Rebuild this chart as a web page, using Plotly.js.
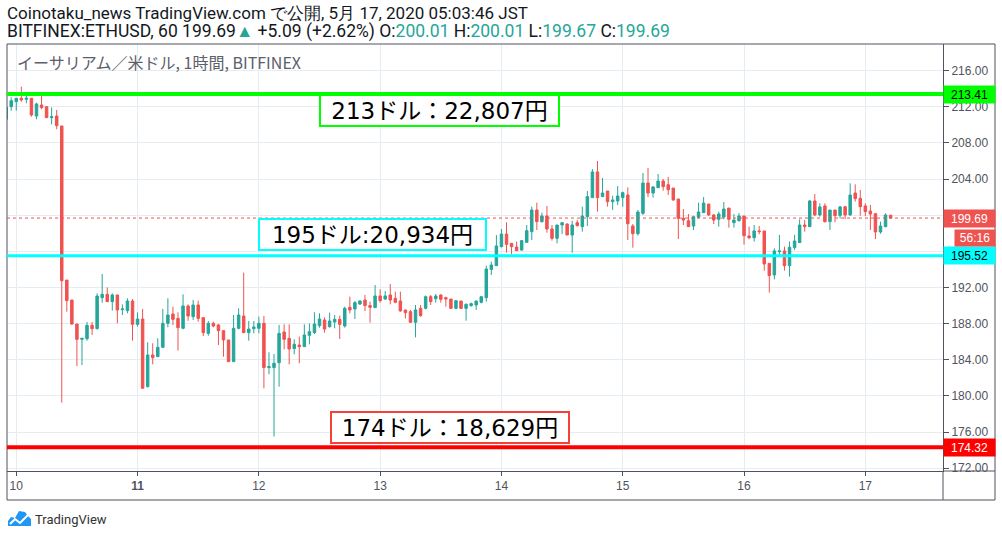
<!DOCTYPE html>
<html>
<head>
<meta charset="utf-8">
<script src="https://cdn.plot.ly/plotly-3.0.1.min.js"></script>
<style>
html,body{margin:0;padding:0;background:#fff;}
#chart{width:1002px;height:537px;}
</style>
</head>
<body>
<div id="chart"></div>
<script>
// ---- DATA (hourly candles, ETH/USD Bitfinex, JST) ----
var startTime = '2020-05-09 22:00';
var openV = [210.61,212.02,212.57,212.94,212.83,212.94,210.98,212.2,212.02,210.8,210.98,209.88,192.83,190.62,187.97,186.27,186.34,187.82,187.45,190.88,
191.25,190.44,191.18,189.55,189.44,190.51,187.93,188.52,181.03,184.54,184.35,185.38,188.04,189.07,188.59,187.49,189.96,188.78,190.07,188.67,
186.93,188.04,187.86,187.23,186.2,183.8,187.49,188.85,187.01,187.45,187.49,188.04,183.14,183.14,183.69,187.08,186.38,185.24,185.64,185.46,
186.71,187.01,187.78,188.41,187.67,188.19,188.48,187.75,189.81,189.63,190.18,190.62,190.0,189.78,191.07,190.73,191.18,190.81,190.51,189.52,
189.33,188.15,189.7,189.7,190.99,190.77,191.17,190.88,190.73,189.7,190.51,189.7,190.0,190.07,190.36,190.88,194.01,194.42,196.52,197.92,
196.89,196.49,196.15,197.0,198.18,200.58,199.29,199.92,198.48,197.45,198.92,199.03,197.81,199.18,198.74,199.84,201.95,204.79,202.06,202.68,
201.5,201.58,201.95,202.24,198.81,197.96,200.21,203.57,202.46,203.05,203.79,203.38,203.01,201.8,199.66,199.4,198.81,199.77,200.29,201.24,
200.03,199.55,199.81,200.8,199.18,199.4,199.92,197.71,197.52,198.26,198.26,194.68,193.39,195.97,196.05,194.42,196.42,196.97,198.92,198.74,
201.58,200.03,201.03,199.29,200.58,199.99,200.95,200.03,202.46,201.87,201.03,200.47,200.18,198.15,198.74,200.01];
var highV = [212.0,213.05,212.97,214.23,213.49,212.97,212.46,213.49,212.09,211.94,211.65,209.88,192.83,190.62,187.97,186.38,188.19,188.19,191.36,193.5,
192.02,191.36,191.18,190.14,190.81,190.73,189.26,189.63,185.94,185.83,186.38,189.63,190.81,189.88,189.26,191.25,190.14,190.62,190.55,188.67,
188.3,188.22,187.97,187.23,186.2,188.96,189.7,193.65,188.3,188.3,188.78,188.85,184.83,184.65,187.86,187.93,187.93,186.27,186.57,187.93,
188.04,189.26,189.15,188.7,189.22,188.96,188.89,189.89,190.99,190.51,190.62,191.18,190.44,192.28,191.8,191.62,192.39,191.55,191.55,189.52,
189.52,190.07,190.07,191.1,191.17,191.29,191.29,190.99,190.73,190.55,190.51,190.25,190.33,190.55,190.99,194.42,194.86,197.81,198.48,199.22,
196.89,197.08,197.26,198.92,200.95,201.39,200.29,201.02,198.92,198.92,199.18,199.1,199.4,199.47,200.95,202.68,205.12,206.0,204.12,202.68,
202.17,203.24,202.61,203.09,199.03,200.58,204.67,205.23,203.24,204.56,204.01,204.23,203.01,201.8,200.69,200.14,199.95,201.39,202.02,201.24,
200.14,200.4,201.47,200.8,200.14,200.25,199.92,198.74,198.92,198.81,198.26,194.68,196.34,197.82,196.53,197.08,197.82,199.55,199.48,201.69,
202.35,201.32,201.32,200.58,200.58,201.06,200.95,203.53,203.42,202.8,201.32,201.14,200.18,199.29,200.21,200.01];
var lowV = [210.5,211.57,211.57,212.57,212.39,210.91,210.61,211.72,210.8,210.06,209.51,179.26,189.33,187.86,183.32,183.43,186.12,186.75,187.38,190.33,
190.44,189.44,188.04,188.96,189.15,186.12,187.67,180.85,180.96,183.5,184.35,185.38,187.6,187.86,185.02,187.38,188.33,188.41,188.22,186.64,
186.67,187.6,185.64,184.35,183.8,183.8,187.38,187.01,186.12,186.94,186.94,180.85,182.4,175.5,181.03,185.16,183.5,184.61,183.62,185.46,
185.72,186.86,187.56,187.01,187.56,187.49,186.31,187.56,189.15,188.52,190.07,189.41,188.11,189.78,190.33,190.62,190.14,190.26,189.33,188.59,
188.15,186.49,188.78,189.59,190.07,190.33,190.33,189.88,189.7,189.59,189.63,188.33,189.88,189.52,190.25,190.44,193.39,194.38,196.45,195.86,
195.67,196.08,196.08,197.0,197.26,198.37,199.18,198.07,197.19,196.89,197.92,197.81,195.86,198.74,198.18,198.81,201.95,200.4,202.06,200.95,
200.58,201.13,200.95,197.26,196.41,197.74,200.03,202.02,201.95,203.05,202.72,202.24,201.61,197.37,198.92,198.74,198.37,199.66,200.29,199.92,
199.03,198.74,199.55,198.63,198.63,199.29,196.74,197.34,197.08,197.89,193.87,191.44,192.91,195.49,193.87,193.21,196.16,196.97,198.19,198.74,
199.92,199.85,199.18,198.37,199.22,199.66,199.59,199.96,201.51,199.96,199.92,198.37,197.37,197.96,198.67,199.67];
var closeV = [211.94,212.68,212.94,212.76,212.94,211.09,212.31,211.91,210.8,210.91,209.91,192.76,190.55,187.97,186.27,186.38,187.82,187.45,191.06,191.25,
190.44,191.18,189.52,189.63,190.51,187.93,188.52,180.85,184.54,184.24,185.38,188.04,188.96,188.48,187.56,189.96,188.85,190.07,188.59,187.01,
188.04,187.74,187.23,186.2,183.8,187.49,188.96,187.01,187.41,187.64,188.04,183.14,183.25,183.62,186.93,186.27,185.2,185.72,185.46,186.75,
187.12,187.97,188.52,187.41,188.3,188.48,187.93,189.7,189.52,190.33,190.51,190.0,189.81,191.07,190.55,191.07,190.62,190.37,189.41,189.22,
188.15,189.52,188.89,190.99,190.44,191.06,190.7,190.73,189.7,190.55,189.7,190.14,190.22,190.51,190.99,194.05,194.49,196.6,197.92,196.78,
196.52,196.08,197.19,198.29,200.58,199.29,199.92,198.48,197.45,198.92,199.18,197.81,198.92,198.85,199.92,202.06,204.79,201.95,202.46,201.5,
201.69,202.13,202.5,199.07,197.96,200.36,203.57,202.46,203.13,203.79,203.16,202.83,201.69,199.66,199.47,198.74,199.84,200.36,201.35,200.03,
199.47,200.14,200.69,199.55,199.47,199.92,197.74,197.52,198.26,198.19,194.61,193.32,196.05,196.05,194.42,196.45,197.15,198.92,198.74,201.58,
200.03,200.92,199.29,200.58,199.96,200.92,200.03,202.24,201.84,200.95,200.4,200.14,198.15,198.81,200.03,199.69];

var dayTicks = ['2020-05-10','2020-05-11','2020-05-12','2020-05-13','2020-05-14','2020-05-15','2020-05-16','2020-05-17'];
var dayLabels = ['10','<b>11</b>','12','13','14','15','16','17'];
var priceTicks = [172,176,180,184,188,192,196,200,204,208,212,216];
var hiddenPriceTicks = [196,200]; // covered by the price-line labels

var levelGreen = 213.41, levelCyan = 195.52, levelRed = 174.32, lastPrice = 199.69;
var levelGreenText = '213ドル：22,807円';
var levelCyanText = '195ドル:20,934円';
var levelRedText = '174ドル：18,629円';
var countdownText = '56:16';
var headerLine1 = 'Coinotaku_news TradingView.com で公開, 5月 17, 2020 05:03:46 JST';
var symbolTitle = 'イーサリアム／米ドル, 1時間, BITFINEX';

// ---- build times ----
function pad(n){return (n<10?'0':'')+n;}
var t0 = Date.UTC(2020,4,9,22,0,0);
var xs = openV.map(function(_,i){
  var d = new Date(t0 + i*3600000);
  return d.getUTCFullYear()+'-'+pad(d.getUTCMonth()+1)+'-'+pad(d.getUTCDate())+' '+pad(d.getUTCHours())+':00';
});

var UP='#26a69a', DN='#ef5350', AX='#50535e', GRID='#e6edf2';
var trace = {
  type:'candlestick', x:xs, open:openV, high:highV, low:lowV, close:closeV,
  increasing:{line:{color:UP,width:1},fillcolor:UP},
  decreasing:{line:{color:DN,width:1},fillcolor:DN},
  whiskerwidth:0, hoverinfo:'skip'
};

// pixel helpers for decoration placement (plot area 7..943 x 44..471)
var L=7,R=943,T=44,B=471;
function PX(x){return (x-L)/(R-L);}
function PY(y){return (B-y)/(B-T);}

var shapes = [];
function ln(x0,y0,x1,y1,c,w,dash){shapes.push({type:'line',xref:'paper',yref:'paper',x0:x0,y0:y0,x1:x1,y1:y1,line:{color:c,width:w,dash:dash||'solid'}});}
// frame
ln(0,PY(500),0,1,AX,1);
ln(0,1,PX(995),1,AX,1);
ln(PX(995),PY(500),PX(995),1,AX,1);
ln(0,PY(500),PX(995),PY(500),AX,1);
ln(1,0,PX(995),0,AX,1);
ln(1,PY(500),1,0,AX,1);
// level lines
function hl(v,c,w,dash){shapes.push({type:'line',xref:'paper',yref:'y',x0:0,x1:1,y0:v,y1:v,line:{color:c,width:w,dash:dash||'solid'}});}
hl(lastPrice,DN,1,'dot');
hl(levelGreen,'#00ff00',4);
hl(levelCyan,'#00ffff',3);
hl(levelRed,'#ff0000',4);
// TradingView logo
var cloud=[[8,526],[8,521],[11,517],[15,518],[19,511],[25,512],[28,516],[31,519],[31,526]];
var pth='M'+cloud.map(function(p){return PX(p[0])+','+PY(p[1]);}).join(' L')+' Z';
shapes.push({type:'path',xref:'paper',yref:'paper',path:pth,fillcolor:'#2196f3',line:{width:0}});
var zig=[[10,524],[15,519],[20,523],[28,515]];
shapes.push({type:'path',xref:'paper',yref:'paper',path:'M'+zig.map(function(p){return PX(p[0])+','+PY(p[1]);}).join(' L'),line:{color:'#ffffff',width:2}});

var annotations = [];
var HF = 'Roboto, Liberation Sans, sans-serif';
annotations.push({xref:'paper',yref:'paper',x:PX(5),y:PY(13),xanchor:'left',yanchor:'middle',showarrow:false,
  text:headerLine1,font:{family:HF,size:17,color:'#131722'}});
annotations.push({xref:'paper',yref:'paper',x:PX(5),y:PY(32),xanchor:'left',yanchor:'middle',showarrow:false,
  text:'BITFINEX:ETHUSD, 60 199.69<span style="color:'+UP+'">▲</span> +5.09 (+2.62%) O:<span style="color:'+UP+'">200.01</span> H:<span style="color:'+UP+'">200.01</span> L:<span style="color:'+UP+'">199.67</span> C:<span style="color:'+UP+'">199.69</span>',
  font:{family:HF,size:17.5,color:'#131722'}});
annotations.push({xref:'paper',yref:'paper',x:PX(15),y:PY(62),xanchor:'left',yanchor:'middle',showarrow:false,
  text:symbolTitle,font:{family:'Noto Sans CJK JP, sans-serif',size:16,color:'#5d606b'}});
// level text boxes
var BF='DejaVu Sans, Noto Sans CJK JP, sans-serif';
function box(txt,cx,cy,w,col){annotations.push({xref:'paper',yref:'paper',x:PX(cx),y:PY(cy),xanchor:'center',yanchor:'middle',
  showarrow:false,text:txt,font:{family:BF,size:23,color:'#000'},bgcolor:'#ffffff',bordercolor:col,borderwidth:2,borderpad:0,width:w,height:29});}
box(levelGreenText,439.5,111,237,'#00ff00');
box(levelCyanText,372.5,234.5,225,'#00ffff');
box(levelRedText,450,427.5,236,'#f44336');
// price-axis labels
function plab(v,txt,bg,fg,x,w){annotations.push({xref:'paper',yref:'y',x:PX(x),y:v,xanchor:'left',yanchor:'middle',showarrow:false,
  text:txt,font:{family:'Liberation Sans, sans-serif',size:12,color:fg},bgcolor:bg,borderpad:0,width:w,height:17,align:'center'});}
plab(levelGreen,levelGreen.toFixed(2),'#00ff00','#000000',943,51);
plab(lastPrice,lastPrice.toFixed(2),DN,'#ffffff',943,51);
plab(levelCyan,levelCyan.toFixed(2),'#00ffff','#000000',943,51);
plab(levelRed,levelRed.toFixed(2),'#ff0000','#ffffff',943,51);
annotations.push({xref:'paper',yref:'y',x:PX(954),y:lastPrice,yshift:-20,xanchor:'left',yanchor:'middle',showarrow:false,
  text:countdownText,font:{family:'Liberation Sans, sans-serif',size:12,color:'#ffffff'},bgcolor:DN,borderpad:0,width:40,height:16,align:'center'});
annotations.push({xref:'paper',yref:'paper',x:PX(33),y:PY(519),xanchor:'left',yanchor:'middle',showarrow:false,
  text:'TradingView',font:{family:'Roboto, sans-serif',size:13,color:'#333333'}});

var layout = {
  width:1002,height:537,
  margin:{l:L,r:1002-R,t:T,b:537-B,pad:0},
  paper_bgcolor:'#ffffff',plot_bgcolor:'#ffffff',
  showlegend:false,dragmode:false,
  xaxis:{type:'date',range:['2020-05-09 22:10','2020-05-17 15:22'],rangeslider:{visible:false},
    tickvals:dayTicks,ticktext:dayLabels,ticks:'outside',ticklen:4,tickcolor:AX,
    showline:true,linecolor:AX,linewidth:1,showgrid:true,gridcolor:GRID,gridwidth:1,zeroline:false,
    tickfont:{family:'Liberation Sans, sans-serif',size:12,color:AX}},
  yaxis:{side:'right',range:[171.70,218.95],tickvals:priceTicks,
    ticktext:priceTicks.map(function(v){return hiddenPriceTicks.indexOf(v)>=0?'':v.toFixed(2);}),
    ticks:'outside',ticklen:5,tickcolor:AX,showline:true,linecolor:AX,linewidth:1,
    showgrid:true,gridcolor:GRID,gridwidth:1,zeroline:false,
    tickfont:{family:'Liberation Sans, sans-serif',size:12,color:AX}},
  shapes:shapes,annotations:annotations
};
Plotly.newPlot('chart',[trace],layout,{staticPlot:true,displayModeBar:false});
</script>
</body>
</html>
